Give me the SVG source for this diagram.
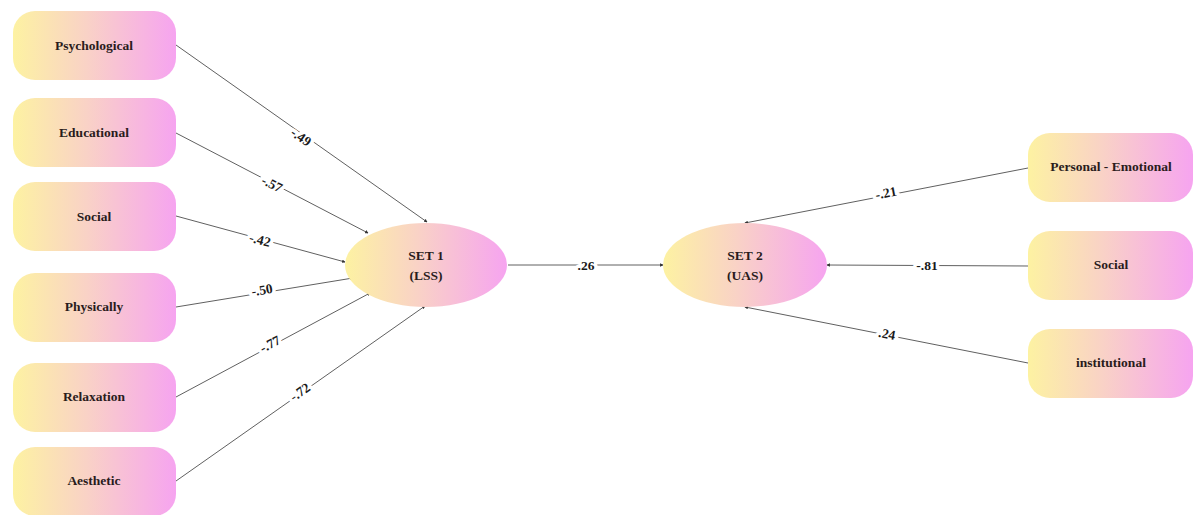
<svg xmlns="http://www.w3.org/2000/svg" width="1198" height="515" viewBox="0 0 1198 515">
  <defs>
    <linearGradient id="fill" x1="0" y1="0" x2="1" y2="0">
      <stop offset="0" stop-color="#fdf2a2"/>
      <stop offset="0.45" stop-color="#f9d2c6"/>
      <stop offset="1" stop-color="#f6a4f0"/>
    </linearGradient>
    <marker id="tip" viewBox="0 0 6 6" refX="5" refY="3" markerWidth="3.5" markerHeight="3.5" orient="auto">
      <path d="M0,0 L6,3 L0,6 z" fill="#333"/>
    </marker>
    <style>
      .box { fill: url(#fill); }
      .lbl { font-family: "Liberation Serif", "Times New Roman", serif; font-weight: bold; font-size: 13.5px; fill: #2a1c1c; text-anchor: middle; dominant-baseline: central; }
      .edge { stroke: #606060; stroke-width: 1; fill: none; marker-end: url(#tip); }
      .w { font-family: "Liberation Serif", "Times New Roman", serif; font-weight: bold; font-size: 13.5px; fill: #1a1a1a; text-anchor: middle; dominant-baseline: central; stroke: #ffffff; stroke-width: 7; paint-order: stroke; stroke-linejoin: round; }
    </style>
  </defs>
  <rect width="1198" height="515" fill="#ffffff"/>

  <!-- connectors -->
  <g id="connectors">
    <line class="edge" x1="176" y1="45" x2="427" y2="222"/>
    <line class="edge" x1="176" y1="133" x2="368" y2="233"/>
    <line class="edge" x1="176" y1="216" x2="345" y2="262"/>
    <line class="edge" x1="176" y1="307" x2="353" y2="278"/>
    <line class="edge" x1="176" y1="397" x2="370" y2="293"/>
    <line class="edge" x1="176" y1="481" x2="425" y2="306"/>
    <line class="edge" x1="508" y1="265" x2="663" y2="265"/>
    <line class="edge" x1="1028" y1="168" x2="745" y2="223"/>
    <line class="edge" x1="1028" y1="266" x2="827" y2="265"/>
    <line class="edge" x1="1028" y1="363" x2="745" y2="307"/>

    <text class="w" transform="translate(301,137) rotate(35)">-.49</text>
    <text class="w" transform="translate(272,184) rotate(27)">-.57</text>
    <text class="w" transform="translate(260,240) rotate(15)">-.42</text>
    <text class="w" transform="translate(262,290) rotate(-9)">-.50</text>
    <text class="w" transform="translate(270,344) rotate(-28)">-.77</text>
    <text class="w" transform="translate(300,392) rotate(-35)">-.72</text>
    <text class="w" x="586" y="265">.26</text>
    <text class="w" transform="translate(886,193) rotate(-11)">-.21</text>
    <text class="w" x="927" y="265">-.81</text>
    <text class="w" transform="translate(887,334) rotate(11)">.24</text>
  </g>

  <!-- indicator nodes of set 1 -->
  <g id="psychological">
    <rect class="box" x="13" y="11" width="163" height="69" rx="22"/>
    <text class="lbl" x="94" y="45">Psychological</text>
  </g>
  <g id="educational">
    <rect class="box" x="13" y="98" width="163" height="69" rx="22"/>
    <text class="lbl" x="94" y="132">Educational</text>
  </g>
  <g id="social-1">
    <rect class="box" x="13" y="182" width="163" height="69" rx="22"/>
    <text class="lbl" x="94" y="216">Social</text>
  </g>
  <g id="physically">
    <rect class="box" x="13" y="273" width="163" height="69" rx="22"/>
    <text class="lbl" x="94" y="306">Physically</text>
  </g>
  <g id="relaxation">
    <rect class="box" x="13" y="363" width="163" height="69" rx="22"/>
    <text class="lbl" x="94" y="396">Relaxation</text>
  </g>
  <g id="aesthetic">
    <rect class="box" x="13" y="447" width="163" height="69" rx="22"/>
    <text class="lbl" x="94" y="480">Aesthetic</text>
  </g>

  <!-- latent sets -->
  <g id="set1">
    <ellipse class="box" cx="426" cy="265" rx="81" ry="42"/>
    <text class="lbl" x="426" y="255">SET 1</text>
    <text class="lbl" x="426" y="275">(LSS)</text>
  </g>
  <g id="set2">
    <ellipse class="box" cx="745" cy="265" rx="82" ry="42"/>
    <text class="lbl" x="745" y="255">SET 2</text>
    <text class="lbl" x="745" y="275">(UAS)</text>
  </g>

  <!-- indicator nodes of set 2 -->
  <g id="personal-emotional">
    <rect class="box" x="1028" y="133" width="165" height="69" rx="22"/>
    <text class="lbl" x="1111" y="166">Personal - Emotional</text>
  </g>
  <g id="social-2">
    <rect class="box" x="1028" y="231" width="165" height="69" rx="22"/>
    <text class="lbl" x="1111" y="264">Social</text>
  </g>
  <g id="institutional">
    <rect class="box" x="1028" y="329" width="165" height="69" rx="22"/>
    <text class="lbl" x="1111" y="362">institutional</text>
  </g>
</svg>
